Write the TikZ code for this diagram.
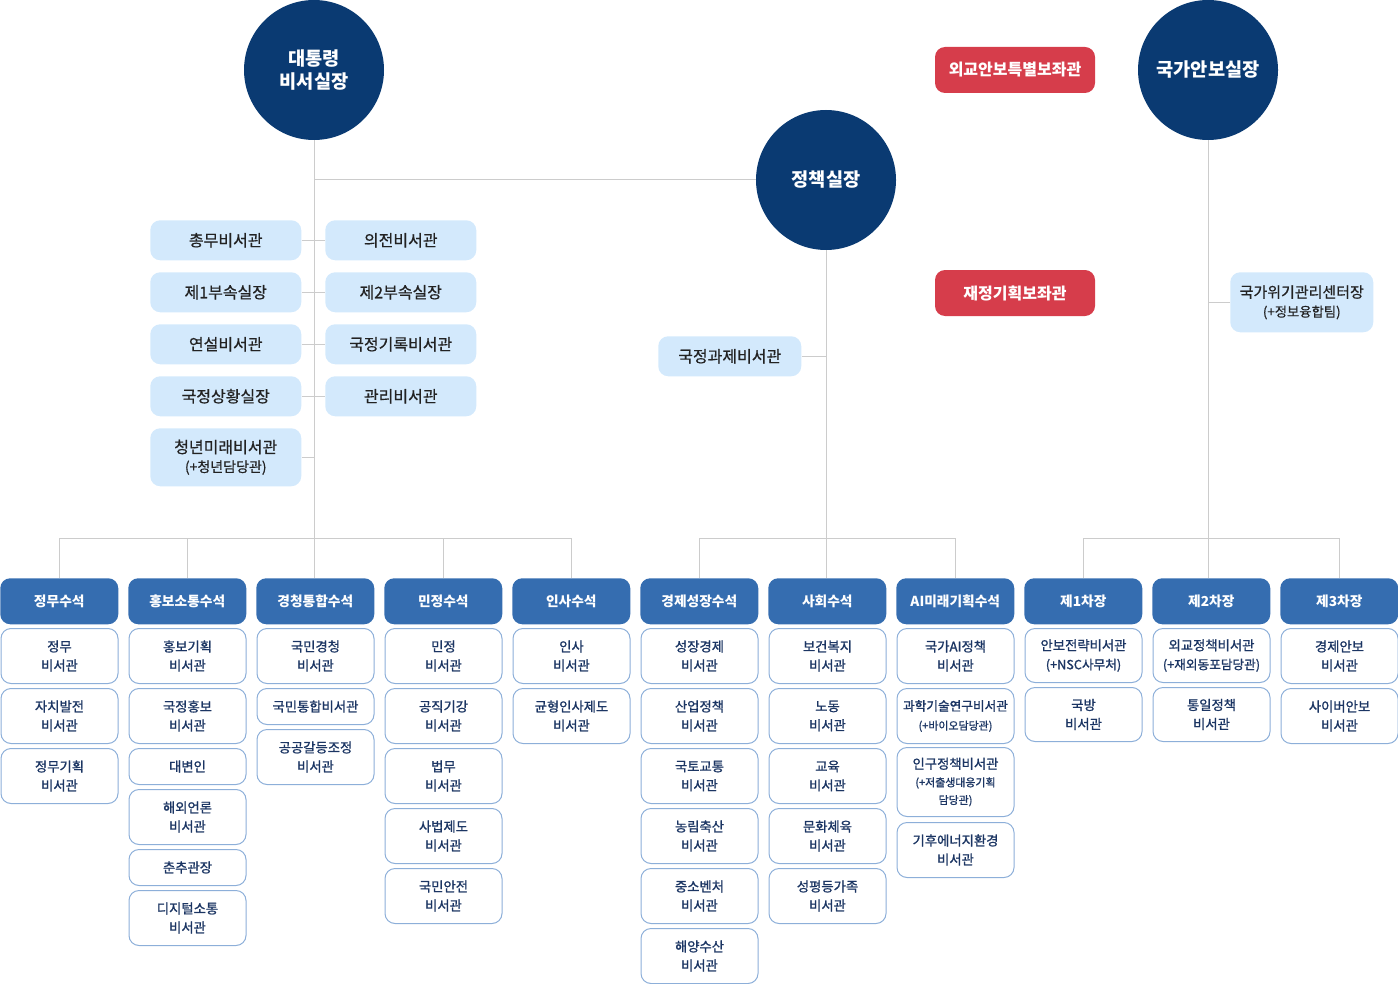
\documentclass[tikz,border=0pt]{standalone}
\usepackage{fontspec}
\setmainfont{Noto Sans CJK KR}
\newfontfamily\krmed{Noto Sans CJK KR}[FakeBold=0.6]
\newfontfamily\krsemi{Noto Sans CJK KR}[FakeBold=1.1]
\definecolor{navy}{HTML}{0A3A72}
\definecolor{redc}{HTML}{D63D4B}
\definecolor{hblue}{HTML}{356DB0}
\definecolor{subb}{HTML}{8DAFD9}
\definecolor{subt}{HTML}{1B3563}
\definecolor{lblue}{HTML}{D3E9FC}
\definecolor{lbt}{HTML}{222222}
\definecolor{linec}{HTML}{CCCCCC}
\newcommand\smallt[1]{{\fontsize{9.5}{12}\selectfont #1}}
\newcommand\tinyt[1]{{\fontsize{8.2}{10}\selectfont #1}}
\tikzset{
 conn/.style={draw=linec, line width=0.75pt},
 circ/.style={circle, fill=navy, minimum size=105pt, inner sep=0pt, text=white, align=center, font=\bfseries\fontsize{14}{17.5}\selectfont},
 redbox/.style={rectangle, rounded corners=7.5pt, fill=redc, text=white, font=\bfseries\fontsize{12}{14}\selectfont, minimum width=120pt, minimum height=34.5pt, inner sep=0pt},
 lbox/.style={rectangle, rounded corners=7.5pt, fill=lblue, text=lbt, align=center, font=\krmed\fontsize{12}{14.25}\selectfont, anchor=north west, minimum width=113.25pt, minimum height=30pt, inner sep=0pt},
 hdr/.style={rectangle, rounded corners=7.5pt, fill=hblue, text=white, font=\bfseries\fontsize{10.3}{12}\selectfont, anchor=north west, minimum width=88.5pt, minimum height=34.5pt, inner sep=0pt},
 sub/.style={rectangle, rounded corners=7.5pt, draw=subb, line width=0.75pt, fill=white, text=subt, align=center, font=\krsemi\fontsize{10}{14.25}\selectfont, anchor=north west, minimum width=87.75pt, minimum height=#1*0.75pt, inner sep=0pt},
 sub/.default=55
}
\begin{document}
\begin{tikzpicture}[x=0.75pt,y=-0.75pt]
\useasboundingbox (0,0) rectangle (1398,984);
% top circles and boxes
\node[circ] (pres) at (314,70) {대통령\\비서실장};
\node[circ] (pol) at (826,180) {정책실장};
\node[circ] (nsa) at (1208,70) {국가안보실장};
\node[redbox] (r1) at (1015,70) {외교안보특별보좌관};
\node[redbox] (r2) at (1015,293) {재정기획보좌관};
\node[lbox, minimum width=107.25pt, minimum height=45pt, font=\krmed\fontsize{11.25}{14.25}\selectfont] (crisis) at (1230,272) {국가위기관리센터장\\{\fontsize{10}{13}\selectfont (+정보융합팀)}};
\node[lbox, minimum width=107.25pt] (task) at (658,336) {국정과제비서관};
% presidential staff
\node[lbox] (a1) at (150,220) {총무비서관};
\node[lbox] (b1) at (325,220) {의전비서관};
\node[lbox] (a2) at (150,272) {제1부속실장};
\node[lbox] (b2) at (325,272) {제2부속실장};
\node[lbox] (a3) at (150,324) {연설비서관};
\node[lbox] (b3) at (325,324) {국정기록비서관};
\node[lbox] (a4) at (150,376) {국정상황실장};
\node[lbox] (b4) at (325,376) {관리비서관};
\node[lbox, minimum height=43.5pt] (a5) at (150,428) {청년미래비서관\\{\fontsize{10.5}{13}\selectfont (+청년담당관)}};
% headers
\node[hdr] (h0) at (0,578) {정무수석};
\node[hdr] (h1) at (128,578) {홍보소통수석};
\node[hdr] (h2) at (256,578) {경청통합수석};
\node[hdr] (h3) at (384,578) {민정수석};
\node[hdr] (h4) at (512,578) {인사수석};
\node[hdr] (h5) at (640,578) {경제성장수석};
\node[hdr] (h6) at (768,578) {사회수석};
\node[hdr] (h7) at (896,578) {AI미래기획수석};
\node[hdr] (h8) at (1024,578) {제1차장};
\node[hdr] (h9) at (1152,578) {제2차장};
\node[hdr] (h10) at (1280,578) {제3차장};
% col 0
\node[sub] (c0a) at (0.5,628) {정무\\비서관};
\node[sub] (c0b) at (0.5,688) {자치발전\\비서관};
\node[sub] (c0c) at (0.5,748) {정무기획\\비서관};
% col 1
\node[sub] (c1a) at (128.5,628) {홍보기획\\비서관};
\node[sub] (c1b) at (128.5,688) {국정홍보\\비서관};
\node[sub=36] (c1c) at (128.5,748) {대변인};
\node[sub] (c1d) at (128.5,789) {해외언론\\비서관};
\node[sub=36] (c1e) at (128.5,849) {춘추관장};
\node[sub] (c1f) at (128.5,890) {디지털소통\\비서관};
% col 2
\node[sub] (c2a) at (256.5,628) {국민경청\\비서관};
\node[sub=36] (c2b) at (256.5,688) {국민통합비서관};
\node[sub] (c2c) at (256.5,729) {공공갈등조정\\비서관};
% col 3
\node[sub] (c3a) at (384.5,628) {민정\\비서관};
\node[sub] (c3b) at (384.5,688) {공직기강\\비서관};
\node[sub] (c3c) at (384.5,748) {법무\\비서관};
\node[sub] (c3d) at (384.5,808) {사법제도\\비서관};
\node[sub] (c3e) at (384.5,868) {국민안전\\비서관};
% col 4
\node[sub] (c4a) at (512.5,628) {인사\\비서관};
\node[sub] (c4b) at (512.5,688) {균형인사제도\\비서관};
% col 5
\node[sub] (c5a) at (640.5,628) {성장경제\\비서관};
\node[sub] (c5b) at (640.5,688) {산업정책\\비서관};
\node[sub] (c5c) at (640.5,748) {국토교통\\비서관};
\node[sub] (c5d) at (640.5,808) {농림축산\\비서관};
\node[sub] (c5e) at (640.5,868) {중소벤처\\비서관};
\node[sub] (c5f) at (640.5,928) {해양수산\\비서관};
% col 6
\node[sub] (c6a) at (768.5,628) {보건복지\\비서관};
\node[sub] (c6b) at (768.5,688) {노동\\비서관};
\node[sub] (c6c) at (768.5,748) {교육\\비서관};
\node[sub] (c6d) at (768.5,808) {문화체육\\비서관};
\node[sub] (c6e) at (768.5,868) {성평등가족\\비서관};
% col 7
\node[sub] (c7a) at (896.5,628) {국가AI정책\\비서관};
\node[sub] (c7b) at (896.5,688) {{\fontsize{9.5}{12}\selectfont 과학기술연구비서관}\\\tinyt{(+바이오담당관)}};
\node[sub=69] (c7c) at (896.5,747) {인구정책비서관\\[-1pt]\tinyt{(+저출생대응기획}\\[-1pt]\tinyt{담당관)}};
\node[sub] (c7d) at (896.5,822) {기후에너지환경\\비서관};
% col 8
\node[sub=54] (c8a) at (1024.5,628) {안보전략비서관\\\smallt{(+NSC사무처)}};
\node[sub=54] (c8b) at (1024.5,687) {국방\\비서관};
% col 9
\node[sub=54] (c9a) at (1152.5,628) {외교정책비서관\\\smallt{(+재외동포담당관)}};
\node[sub=54] (c9b) at (1152.5,687) {통일정책\\비서관};
% col 10
\node[sub] (c10a) at (1280.5,628) {경제안보\\비서관};
\node[sub] (c10b) at (1280.5,688) {사이버안보\\비서관};
% connectors
\draw[conn] (pres.south) -- (pres.south |- h2.north);
\draw[conn] (pres.south |- pol.west) -- (pol.west);
\draw[conn] (h0.north) -- ++(0,-40) -| (h4.north);
\draw[conn] (h1.north) -- ++(0,-40);
\draw[conn] (h3.north) -- ++(0,-40);
\draw[conn] (a1.east) -- (b1.west);
\draw[conn] (a2.east) -- (b2.west);
\draw[conn] (a3.east) -- (b3.west);
\draw[conn] (a4.east) -- (b4.west);
\draw[conn] (a5.east) -- (a5.east -| pres.south);
\draw[conn] (pol.south) -- (pol.south |- h6.north);
\draw[conn] (task.east) -- (task.east -| pol.south);
\draw[conn] (h5.north) -- ++(0,-40) -| (h7.north);
\draw[conn] (nsa.south) -- (nsa.south |- h9.north);
\draw[conn] (crisis.west) -- (crisis.west -| nsa.south);
\draw[conn] (h8.north) -- ++(0,-40) -| (h10.north);
\end{tikzpicture}
\end{document}
